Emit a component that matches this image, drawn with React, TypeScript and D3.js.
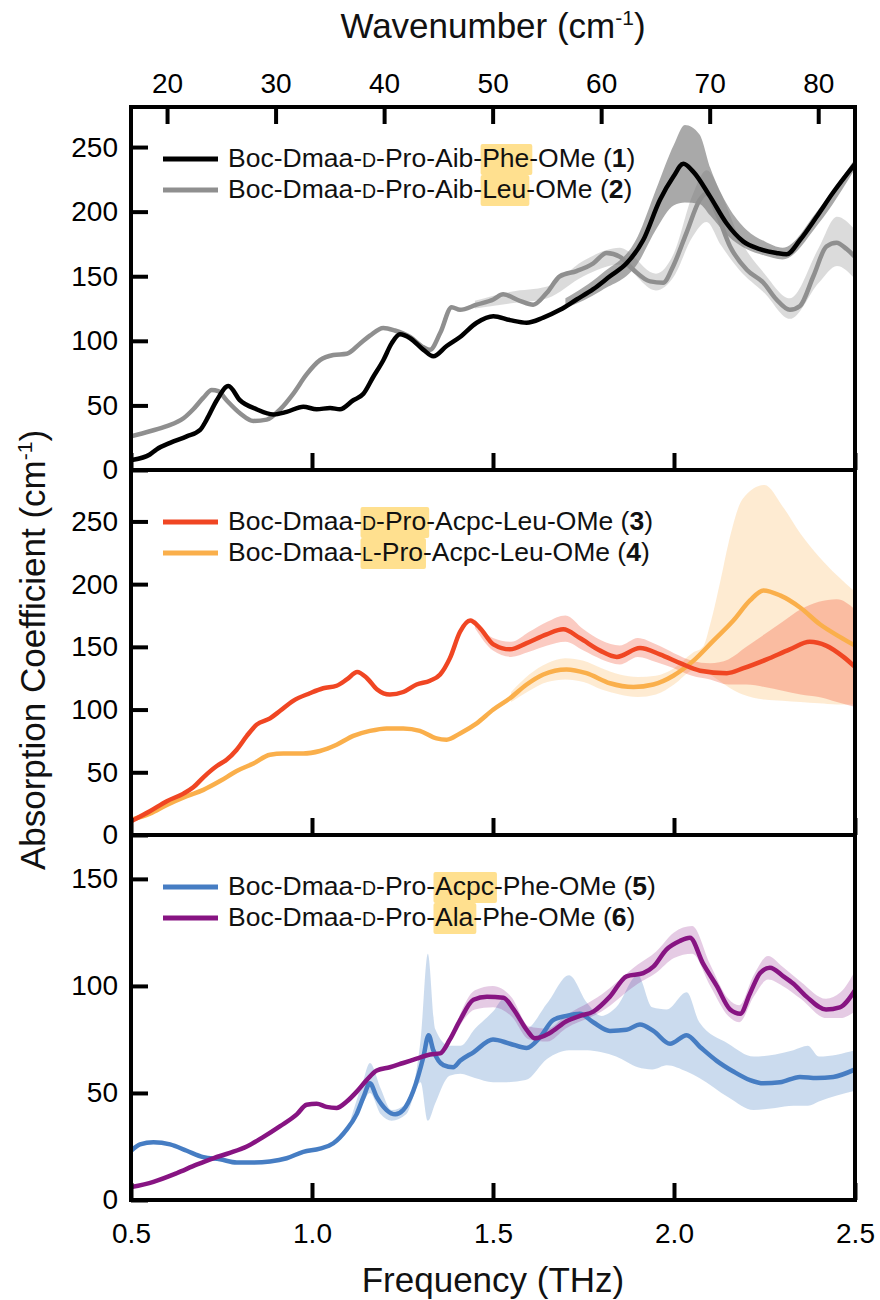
import React, { useEffect, useRef } from "react";
import * as d3 from "d3";

// 1 THz in cm-1
const THZ_TO_CM = 33.356;

const freqTicks = [0.5, 1.0, 1.5, 2.0, 2.5];
const wavenumberTicks = [20, 30, 40, 50, 60, 70, 80];

// ---- panel 1: compounds 1 (Phe) and 2 (Leu)
const c1Freq = [0.506, 0.552, 0.571, 0.608, 0.654, 0.691, 0.709, 0.737, 0.769, 0.801, 0.847, 0.893, 0.93, 0.976, 1.013, 1.05, 1.077, 1.114, 1.142, 1.169, 1.197, 1.22, 1.243, 1.271, 1.308, 1.335, 1.372, 1.409, 1.455, 1.501, 1.547, 1.593, 1.639, 1.685, 1.731, 1.777, 1.823, 1.869, 1.915, 1.961, 1.998, 2.026, 2.053, 2.099, 2.145, 2.191, 2.237, 2.283, 2.311, 2.348, 2.394, 2.44, 2.5];
const c1Vals = [8, 12, 16, 21, 26, 31, 39, 54, 65, 54, 47, 43, 45, 49, 47, 48, 47, 54, 59, 72, 85, 98, 105, 102, 93, 88, 96, 103, 114, 119, 116, 114, 118, 124, 132, 140, 150, 160, 178, 209, 227, 237, 231, 212, 191, 177, 171, 168, 167, 178, 196, 215, 237];
const c1BandFreq = [1.7, 1.8, 1.9, 1.95, 2.0, 2.03, 2.07, 2.1, 2.15, 2.2, 2.25, 2.3, 2.4, 2.5];
const c1BandLo = [125, 139, 160, 186, 205, 207, 206, 197, 181, 171, 166, 163, 191, 233];
const c1BandHi = [133, 152, 181, 217, 252, 267, 260, 234, 204, 186, 177, 172, 202, 241];

const c2Freq = [0.5, 0.552, 0.599, 0.645, 0.672, 0.7, 0.723, 0.741, 0.764, 0.801, 0.838, 0.875, 0.912, 0.948, 0.985, 1.022, 1.059, 1.096, 1.133, 1.16, 1.197, 1.229, 1.271, 1.308, 1.326, 1.354, 1.386, 1.409, 1.455, 1.501, 1.528, 1.574, 1.611, 1.648, 1.685, 1.731, 1.777, 1.814, 1.851, 1.888, 1.934, 1.97, 1.998, 2.035, 2.071, 2.09, 2.118, 2.155, 2.201, 2.247, 2.283, 2.32, 2.348, 2.385, 2.421, 2.449, 2.477, 2.5];
const c2Vals = [26, 30, 34, 40, 47, 56, 62, 61, 54, 44, 38, 39, 47, 59, 74, 85, 89, 90, 98, 104, 110, 108, 103, 95, 93, 106, 126, 124, 128, 132, 136, 131, 128, 137, 150, 154, 160, 168, 165, 155, 146, 145, 158, 184, 209, 214, 199, 173, 155, 145, 132, 124, 127, 150, 173, 176, 171, 165];
const c2BandFreq = [1.45, 1.55, 1.65, 1.75, 1.85, 1.95, 2.0, 2.05, 2.09, 2.13, 2.18, 2.25, 2.32, 2.4, 2.45, 2.5];
const c2BandLo = [125, 129, 133, 150, 159, 139, 150, 180, 192, 174, 155, 137, 117, 145, 158, 148];
const c2BandHi = [131, 138, 142, 162, 172, 152, 168, 212, 232, 214, 180, 152, 133, 172, 196, 186];

// ---- panel 2: compounds 3 (D-Pro) and 4 (L-Pro)
const c3Freq = [0.5, 0.552, 0.599, 0.645, 0.672, 0.7, 0.737, 0.764, 0.792, 0.82, 0.847, 0.884, 0.912, 0.948, 0.994, 1.031, 1.068, 1.096, 1.125, 1.152, 1.18, 1.215, 1.252, 1.289, 1.326, 1.354, 1.381, 1.409, 1.437, 1.464, 1.501, 1.547, 1.593, 1.648, 1.694, 1.74, 1.796, 1.842, 1.906, 1.961, 2.017, 2.072, 2.146, 2.192, 2.256, 2.32, 2.375, 2.42, 2.468, 2.5];
const c3Vals = [11, 19, 27, 33, 38, 46, 55, 60, 68, 79, 88, 93, 99, 107, 113, 117, 119, 124, 130, 125, 116, 112, 114, 120, 123, 128, 141, 162, 171, 165, 152, 148, 153, 160, 164, 157, 147, 142, 149, 144, 137, 131, 129, 133, 140, 148, 154, 151, 142, 134];
const c3BandFreq = [1.45, 1.5, 1.55, 1.6, 1.65, 1.7, 1.75, 1.8, 1.85, 1.9, 1.95, 2.0, 2.05, 2.1, 2.15, 2.2, 2.25, 2.3, 2.35, 2.4, 2.45, 2.5];
const c3BandLo = [165, 147, 142, 146, 151, 154, 147, 140, 136, 142, 138, 133, 127, 124, 120, 120, 118, 115, 112, 110, 106, 102];
const c3BandHi = [172, 157, 154, 162, 170, 175, 164, 155, 151, 157, 152, 145, 139, 137, 140, 150, 160, 170, 180, 186, 188, 180];

const c4Freq = [0.5, 0.552, 0.599, 0.654, 0.7, 0.746, 0.792, 0.838, 0.884, 0.921, 0.976, 1.022, 1.068, 1.114, 1.16, 1.206, 1.252, 1.298, 1.344, 1.372, 1.409, 1.455, 1.501, 1.547, 1.593, 1.639, 1.703, 1.758, 1.823, 1.888, 1.943, 1.998, 2.054, 2.109, 2.164, 2.21, 2.247, 2.293, 2.35, 2.403, 2.458, 2.5];
const c4Vals = [12, 17, 24, 31, 36, 43, 51, 57, 64, 65, 65, 67, 72, 79, 83, 85, 85, 83, 77, 76, 81, 89, 100, 109, 120, 128, 132, 129, 121, 118, 120, 127, 139, 155, 171, 187, 195, 191, 181, 168, 158, 151];
const c4BandFreq = [1.55, 1.6, 1.65, 1.7, 1.75, 1.8, 1.85, 1.9, 1.95, 2.0, 2.05, 2.08, 2.1, 2.13, 2.15, 2.19, 2.25, 2.3, 2.35, 2.4, 2.45, 2.5];
const c4BandLo = [106, 115, 122, 124, 122, 116, 112, 110, 112, 120, 131, 132, 128, 122, 118, 112, 108, 107, 106, 105, 104, 104];
const c4BandHi = [114, 128, 137, 141, 139, 133, 128, 126, 127, 133, 145, 150, 168, 205, 232, 268, 279, 262, 240, 222, 207, 194];

// ---- panel 3: compounds 5 (Acpc) and 6 (Ala)
const c5Freq = [0.5, 0.525, 0.562, 0.608, 0.654, 0.7, 0.746, 0.792, 0.838, 0.884, 0.93, 0.976, 1.022, 1.059, 1.096, 1.123, 1.142, 1.16, 1.179, 1.206, 1.23, 1.252, 1.28, 1.308, 1.322, 1.335, 1.363, 1.39, 1.409, 1.446, 1.5, 1.547, 1.593, 1.63, 1.666, 1.703, 1.74, 1.777, 1.823, 1.869, 1.906, 1.943, 1.989, 2.035, 2.072, 2.118, 2.164, 2.21, 2.247, 2.293, 2.348, 2.394, 2.44, 2.5];
const c5Vals = [23, 26, 27, 26, 23, 20, 19, 17.5, 17.5, 18, 19.5, 22.5, 24, 26.5, 33, 40, 48, 54.5, 48, 42, 40, 42, 51, 67, 77, 70, 63, 62, 65, 69, 75, 73, 71, 76, 84, 86, 87, 83, 79, 79.5, 82, 79, 73, 77, 71.5, 65, 60, 56, 54.5, 55, 57.5, 57, 57.5, 61];
const c5BandFreq = [1.1, 1.14, 1.16, 1.19, 1.22, 1.26, 1.3, 1.32, 1.34, 1.38, 1.41, 1.45, 1.5, 1.53, 1.59, 1.65, 1.71, 1.76, 1.8, 1.84, 1.9, 1.94, 1.98, 2.035, 2.07, 2.15, 2.22, 2.28, 2.33, 2.37, 2.4, 2.5];
const c5BandLo = [32, 45, 50, 40, 37, 40, 55, 37, 45, 58, 59, 57, 55, 55, 56, 66, 70, 70, 69, 67, 62, 61, 63, 60, 57, 48, 42, 43, 44, 44, 46, 51];
const c5BandHi = [34, 55, 64, 52, 42, 45, 75, 115, 80, 72, 72, 80, 88, 94, 80, 92, 105, 92, 86, 90, 105, 90, 89, 97, 83, 73, 67, 68, 70, 72, 67, 70];

const c6Freq = [0.5, 0.562, 0.626, 0.681, 0.727, 0.773, 0.82, 0.866, 0.912, 0.958, 0.985, 1.013, 1.04, 1.068, 1.096, 1.123, 1.151, 1.179, 1.215, 1.252, 1.289, 1.326, 1.354, 1.381, 1.409, 1.446, 1.483, 1.529, 1.557, 1.593, 1.616, 1.657, 1.703, 1.74, 1.777, 1.823, 1.869, 1.915, 1.943, 1.979, 2.016, 2.044, 2.08, 2.118, 2.155, 2.183, 2.21, 2.238, 2.265, 2.302, 2.33, 2.366, 2.42, 2.458, 2.5];
const c6Vals = [6, 8.5, 12.5, 16.5, 19.5, 22, 25, 29.5, 34.5, 40, 44.5, 45, 43.5, 43, 46, 50.5, 56, 60.5, 62, 64, 66, 68, 68.5, 75, 84, 93.5, 95, 94.5, 89, 79.5, 75.5, 78, 83.5, 86, 88, 95, 104.5, 106, 109, 117, 121, 122.5, 110.5, 100, 89, 87, 96.5, 106, 108.5, 104.5, 101, 95, 89, 90, 98];
const c6BandFreq = [1.4, 1.45, 1.5, 1.55, 1.6, 1.65, 1.7, 1.8, 1.9, 1.95, 2.0, 2.05, 2.1, 2.15, 2.18, 2.22, 2.26, 2.3, 2.35, 2.42, 2.46, 2.5];
const c6BandLo = [79, 89, 90, 86, 75, 74, 80, 88, 101, 106, 113, 115, 100, 86, 83, 95, 103, 100, 94, 85, 85, 88];
const c6BandHi = [83, 98, 100, 95, 81, 80, 86, 96, 110, 116, 125, 128, 110, 94, 91, 105, 114, 109, 102, 94, 97, 107];

const FONT = "'Liberation Sans', Arial, sans-serif";
const LEFT = 131;
const RIGHT = 855;
const TICK = 17;

type Seg = { t: string; sc?: boolean; hl?: boolean; b?: boolean };
const mk = (color: string, freq: number[], vals: number[], bf: number[], lo: number[], hi: number[], bandColor: string, bandOpacity: number) => ({ color, freq, vals, bf, lo, hi, bandColor, bandOpacity });

const panels = [
  {
    top: 107, bottom: 470, yMax: 281, yTicks: [0, 50, 100, 150, 200, 250],
    series: [
      mk("#8f8f8f", c2Freq, c2Vals, c2BandFreq, c2BandLo, c2BandHi, "#b8b8b8", 0.5),
      mk("#000000", c1Freq, c1Vals, c1BandFreq, c1BandLo, c1BandHi, "#707070", 0.6),
    ],
    legend: [
      { color: "#000000", segs: [{ t: "Boc-Dmaa-" }, { t: "D", sc: true }, { t: "-Pro-Aib-" }, { t: "Phe", hl: true }, { t: "-OMe (" }, { t: "1", b: true }, { t: ")" }] as Seg[] },
      { color: "#8f8f8f", segs: [{ t: "Boc-Dmaa-" }, { t: "D", sc: true }, { t: "-Pro-Aib-" }, { t: "Leu", hl: true }, { t: "-OMe (" }, { t: "2", b: true }, { t: ")" }] as Seg[] },
    ],
  },
  {
    top: 470, bottom: 835, yMax: 291, yTicks: [0, 50, 100, 150, 200, 250],
    series: [
      mk("#faaf4b", c4Freq, c4Vals, c4BandFreq, c4BandLo, c4BandHi, "#fbb04c", 0.25),
      mk("#f04623", c3Freq, c3Vals, c3BandFreq, c3BandLo, c3BandHi, "#f04623", 0.28),
    ],
    legend: [
      { color: "#f04623", segs: [{ t: "Boc-Dmaa-" }, { t: "D", sc: true, hl: true }, { t: "-Pro", hl: true }, { t: "-Acpc-Leu-OMe (" }, { t: "3", b: true }, { t: ")" }] as Seg[] },
      { color: "#faaf4b", segs: [{ t: "Boc-Dmaa-" }, { t: "L", sc: true, hl: true }, { t: "-Pro", hl: true }, { t: "-Acpc-Leu-OMe (" }, { t: "4", b: true }, { t: ")" }] as Seg[] },
    ],
  },
  {
    top: 835, bottom: 1200, yMax: 170.5, yTicks: [0, 50, 100, 150],
    series: [
      mk("#467dc3", c5Freq, c5Vals, c5BandFreq, c5BandLo, c5BandHi, "#467dc3", 0.28),
      mk("#871482", c6Freq, c6Vals, c6BandFreq, c6BandLo, c6BandHi, "#871482", 0.22),
    ],
    legend: [
      { color: "#467dc3", segs: [{ t: "Boc-Dmaa-" }, { t: "D", sc: true }, { t: "-Pro-" }, { t: "Acpc", hl: true }, { t: "-Phe-OMe (" }, { t: "5", b: true }, { t: ")" }] as Seg[] },
      { color: "#871482", segs: [{ t: "Boc-Dmaa-" }, { t: "D", sc: true }, { t: "-Pro-" }, { t: "Ala", hl: true }, { t: "-Phe-OMe (" }, { t: "6", b: true }, { t: ")" }] as Seg[] },
    ],
  },
];

const styleAxis = (g: any) => {
  g.select(".domain").remove();
  g.attr("font-family", FONT).attr("font-size", 28);
  g.selectAll("line").attr("stroke", "#000").attr("stroke-width", 4);
  g.selectAll("text").attr("fill", "#000");
};

const App = () => {
  const svgRef = useRef<SVGSVGElement>(null);

  useEffect(() => {
    const svg = d3.select(svgRef.current);
    svg.selectAll("*").remove();

    const x = d3.scaleLinear().domain([0.5, 2.5]).range([LEFT, RIGHT]);
    const xWn = d3.scaleLinear().domain([0.5 * THZ_TO_CM, 2.5 * THZ_TO_CM]).range([LEFT, RIGHT]);

    panels.forEach((p, i) => {
      const y = d3.scaleLinear().domain([0, p.yMax]).range([p.bottom, p.top]);
      const g = svg.append("g");

      const clipId = `panel-clip-${i}`;
      g.append("clipPath").attr("id", clipId).append("rect")
        .attr("x", LEFT).attr("y", p.top).attr("width", RIGHT - LEFT).attr("height", p.bottom - p.top);
      const plot = g.append("g").attr("clip-path", `url(#${clipId})`);

      // uncertainty bands first
      p.series.forEach((s) => {
        const pts = s.bf.map((f, k) => ({ f, lo: s.lo[k], hi: s.hi[k] }));
        const area = d3.area<any>().x((d) => x(d.f)).y0((d) => y(d.lo)).y1((d) => y(d.hi)).curve(d3.curveMonotoneX);
        plot.append("path").attr("d", area(pts)).attr("fill", s.bandColor).attr("fill-opacity", s.bandOpacity);
      });
      // then the mean spectra
      p.series.forEach((s) => {
        const pts = s.freq.map((f, k) => ({ f, v: s.vals[k] }));
        const line = d3.line<any>().x((d) => x(d.f)).y((d) => y(d.v)).curve(d3.curveMonotoneX);
        plot.append("path").attr("d", line(pts)).attr("fill", "none").attr("stroke", s.color)
          .attr("stroke-width", 4.5).attr("stroke-linejoin", "round").attr("stroke-linecap", "round");
      });

      // axes (ticks point inward)
      g.append("g").attr("transform", `translate(${LEFT},0)`)
        .call(d3.axisLeft(y).tickValues(p.yTicks).tickSize(-TICK).tickPadding(13).tickFormat(d3.format("d")))
        .call(styleAxis);
      g.append("g").attr("transform", `translate(0,${p.bottom})`)
        .call(d3.axisBottom(x).tickValues(freqTicks).tickSize(-TICK).tickPadding(23)
          .tickFormat(i === panels.length - 1 ? d3.format(".1f") : () => ""))
        .call(styleAxis);
      if (i === 0) {
        g.append("g").attr("transform", `translate(0,${p.top})`)
          .call(d3.axisTop(xWn).tickValues(wavenumberTicks).tickSize(-TICK).tickPadding(14).tickFormat(d3.format("d")))
          .call(styleAxis);
      }

      g.append("rect").attr("x", LEFT).attr("y", p.top).attr("width", RIGHT - LEFT).attr("height", p.bottom - p.top)
        .attr("fill", "none").attr("stroke", "#000").attr("stroke-width", 4);

      // legend
      const hlLayer = g.append("g");
      p.legend.forEach((row, r) => {
        const base = p.top + 60 + r * 31;
        g.append("line").attr("x1", 163).attr("x2", 218).attr("y1", base - 8).attr("y2", base - 8)
          .attr("stroke", row.color).attr("stroke-width", 5);
        const text = g.append("text").attr("x", 228).attr("y", base)
          .attr("font-family", FONT).attr("font-size", 26.5).attr("fill", "#111");
        let idx = 0;
        let hlStart = -1;
        let hlEnd = -1;
        row.segs.forEach((s) => {
          const ts = text.append("tspan").text(s.t);
          if (s.sc) ts.attr("font-size", 19.5);
          if (s.b) ts.attr("font-weight", "bold");
          if (s.hl) {
            if (hlStart < 0) hlStart = idx;
            hlEnd = idx + s.t.length - 1;
          }
          idx += s.t.length;
        });
        const node = text.node() as SVGTextElement;
        if (hlStart >= 0 && node) {
          const x0 = node.getStartPositionOfChar(hlStart).x;
          const x1 = node.getEndPositionOfChar(hlEnd).x;
          hlLayer.append("rect").attr("x", x0 - 1.5).attr("y", base - 23).attr("width", x1 - x0 + 4.5).attr("height", 31)
            .attr("rx", 2).attr("fill", "#ffe08f");
        }
      });
    });

    // axis titles
    const title = (tx: number, ty: number, main: string, sup: string | null, rot = 0) => {
      const t = svg.append("text").attr("transform", `translate(${tx},${ty}) rotate(${rot})`)
        .attr("text-anchor", "middle").attr("font-family", FONT).attr("font-size", 35).attr("fill", "#111");
      t.append("tspan").text(main);
      if (sup) {
        t.append("tspan").attr("font-size", 21).attr("dy", -13).text(sup);
        t.append("tspan").attr("dy", 13).text(")");
      }
    };
    title((LEFT + RIGHT) / 2, 38, "Wavenumber (cm", "-1");
    title((LEFT + RIGHT) / 2, 1292, "Frequency (THz)", null);
    title(45, 650, "Absorption Coefficient (cm", "-1", -90);

    return () => {
      svg.selectAll("*").remove();
    };
  }, []);

  return (
    <svg ref={svgRef} width={880} height={1300} viewBox="0 0 880 1300"
      style={{ position: "absolute", left: 0, top: 0, background: "#fff" }} />
  );
};

export default App;
